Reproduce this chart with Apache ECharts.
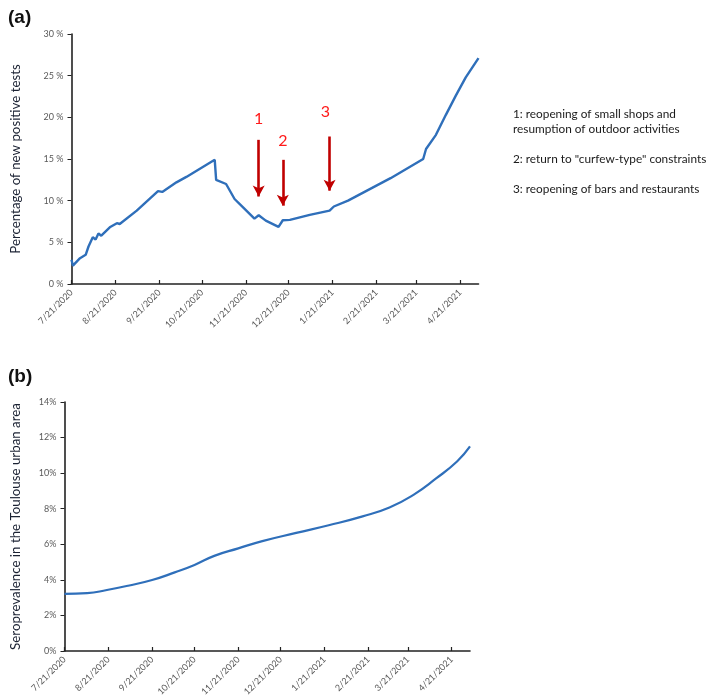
<!DOCTYPE html>
<html><head><meta charset="utf-8">
<script src="https://cdn.jsdelivr.net/npm/echarts@6/dist/echarts.min.js"></script>
<style>html,body{margin:0;padding:0;background:#fff}#c{width:709px;height:700px}</style>
</head><body><div id="c"></div>
<script>
// ---- data ----
const tickDates = ['2020-07-21','2020-08-21','2020-09-21','2020-10-21','2020-11-21','2020-12-21','2021-01-21','2021-02-21','2021-03-21','2021-04-21'];
const axisStart = '2020-07-21';
const axisEnd = '2021-05-04';

const posDates = ['2020-07-21','2020-07-22','2020-07-25','2020-07-27','2020-07-31','2020-08-02','2020-08-05','2020-08-07','2020-08-08','2020-08-09','2020-08-11','2020-08-17','2020-08-22','2020-08-24','2020-09-05','2020-09-20','2020-09-23','2020-10-03','2020-10-10','2020-10-30','2020-10-31','2020-11-07','2020-11-13','2020-11-19','2020-11-27','2020-11-30','2020-12-05','2020-12-14','2020-12-17','2020-12-22','2021-01-05','2021-01-19','2021-01-22','2021-02-01','2021-02-12','2021-03-03','2021-03-26','2021-03-28','2021-04-04','2021-04-11','2021-04-18','2021-04-25','2021-05-04'];
const posValues = [2.9,2.2,2.75,3.1,3.5,4.5,5.6,5.35,5.7,6.05,5.8,6.8,7.3,7.2,8.8,11.15,11.05,12.2,12.85,14.9,12.5,12.0,10.2,9.2,7.85,8.25,7.6,6.85,7.65,7.7,8.3,8.8,9.3,10.0,11.0,12.7,15.0,16.2,17.9,20.3,22.6,24.8,27.1];

const seroDates = ['2020-07-21','2020-08-06','2020-08-20','2020-09-04','2020-09-21','2020-10-07','2020-10-21','2020-11-04','2020-11-21','2020-12-08','2021-01-01','2021-01-24','2021-02-17','2021-03-08','2021-03-25','2021-04-10','2021-04-25','2021-05-04'];
const seroValues = [3.21,3.25,3.43,3.67,3.99,4.42,4.84,5.35,5.77,6.18,6.64,7.07,7.57,8.07,8.78,9.7,10.67,11.5];

const arrowDates = ['2020-11-30','2020-12-17','2021-01-19'];
const arrowFrom = [17.3, 14.9, 17.7];
const arrowTo = [10.5, 9.4, 11.2];
const markDates = ['2020-11-30','2020-12-17','2021-01-16'];
const markValues = [19.8, 17.2, 20.7];
const markTexts = ['1','2','3'];

const noteLines = ['1: reopening of small shops and','resumption of outdoor activities','2: return to "curfew-type" constraints','3: reopening of bars and restaurants'];

// ---- helpers ----
function ts(s){const p=s.split('-').map(Number);return new Date(p[0],p[1]-1,p[2]).getTime();}
function fmt(v){const d=new Date(v);return (d.getMonth()+1)+'/'+d.getDate()+'/'+d.getFullYear();}
const ticks = tickDates.map(ts);
const lineColor = '#2f6fba';
const font = 'Lato, "Open Sans", sans-serif';

function xAxisOpt(gi){
  return {
    type:'value', gridIndex:gi, min:ts(axisStart), max:ts(axisEnd),
    axisLine:{show:true,lineStyle:{color:'#222',width:1.6}},
    axisTick:{show:true,inside:true,length:4,customValues:ticks,lineStyle:{color:'#222',width:1.2}},
    axisLabel:{customValues:ticks,formatter:fmt,rotate:45,fontSize:9,color:'#595959',fontFamily:font,margin:7},
    splitLine:{show:false}, minorTick:{show:false}
  };
}

const chart = echarts.init(document.getElementById('c'), null, {renderer:'canvas'});
chart.setOption({
  animation:false,
  backgroundColor:'#fff',
  title:[
    {text:'(a)',left:3,top:3,textStyle:{fontSize:19,fontWeight:'bold',color:'#111',fontFamily:'Liberation Sans, Arial'}},
    {text:'(b)',left:3,top:362,textStyle:{fontSize:19,fontWeight:'bold',color:'#111',fontFamily:'Liberation Sans, Arial'}}
  ],
  grid:[
    {left:71.5,top:34,width:407,height:250},
    {left:64.5,top:402,width:405.5,height:249}
  ],
  xAxis:[xAxisOpt(0), xAxisOpt(1)],
  yAxis:[
    {type:'value',gridIndex:0,min:0,max:30,interval:5,
     name:'Percentage of new positive tests',nameLocation:'middle',nameGap:49,
     nameTextStyle:{fontSize:13.3,color:'#1b2233',fontFamily:font},
     axisLine:{show:true,lineStyle:{color:'#222',width:1.6}},
     axisTick:{show:true,length:4,lineStyle:{color:'#222'}},
     axisLabel:{formatter:'{value} %',fontSize:9,color:'#595959',fontFamily:font,margin:8},
     splitLine:{show:false}},
    {type:'value',gridIndex:1,min:0,max:14,interval:2,
     name:'Seroprevalence in the Toulouse urban area',nameLocation:'middle',nameGap:42,
     nameTextStyle:{fontSize:13.3,color:'#1b2233',fontFamily:font},
     axisLine:{show:true,lineStyle:{color:'#222',width:1.6}},
     axisTick:{show:true,length:4,lineStyle:{color:'#222'}},
     axisLabel:{formatter:'{value}%',fontSize:9,color:'#595959',fontFamily:font,margin:8},
     splitLine:{show:false}}
  ],
  series:[
    {type:'line',xAxisIndex:0,yAxisIndex:0,showSymbol:false,symbol:'none',
     lineStyle:{color:lineColor,width:2.4},
     data:posDates.map((d,i)=>[ts(d),posValues[i]]),
     markLine:{silent:true,symbol:['none','arrow'],symbolSize:[9,11],
       lineStyle:{color:'#c00000',width:2.6,type:'solid'},
       label:{show:false},
       data:arrowDates.map((d,i)=>[{coord:[ts(d),arrowFrom[i]]},{coord:[ts(d),arrowTo[i]]}])},
     markPoint:{silent:true,symbol:'circle',symbolSize:0,
       label:{show:true,position:'inside',color:'#ff1a1a',fontSize:16,fontFamily:font},
       data:markDates.map((d,i)=>({coord:[ts(d),markValues[i]],value:markTexts[i],label:{formatter:markTexts[i]}}))}
    },
    {type:'line',xAxisIndex:1,yAxisIndex:1,showSymbol:false,symbol:'none',smooth:true,
     lineStyle:{color:lineColor,width:2.2},
     data:seroDates.map((d,i)=>[ts(d),seroValues[i]])}
  ],
  graphic:noteLines.map((t,i)=>({type:'text',left:513,top:[108,123,153,183][i],
     style:{text:t,fill:'#1a1a1a',font:'11.8px '+font}}))
});
</script></body></html>
